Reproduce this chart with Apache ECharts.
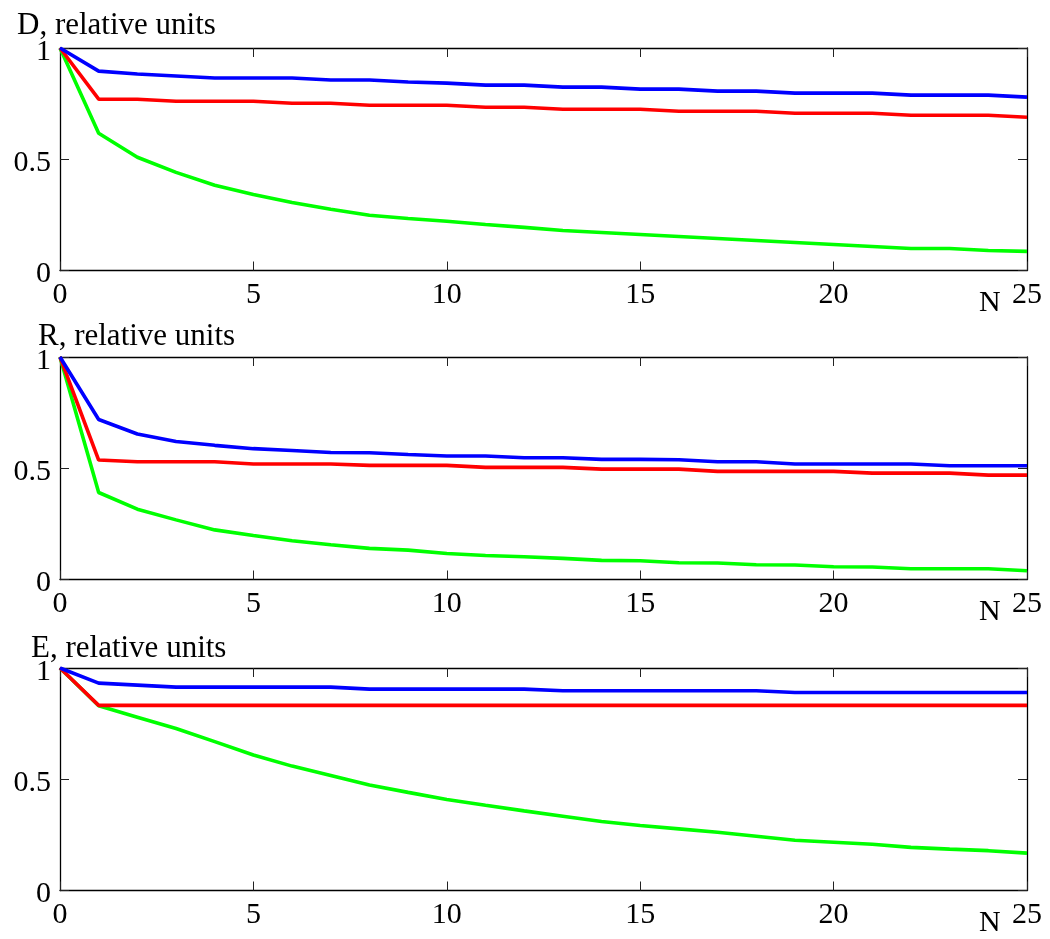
<!DOCTYPE html>
<html><head><meta charset="utf-8">
<script src="https://cdn.jsdelivr.net/npm/echarts@6/dist/echarts.min.js"></script>
<style>html,body{margin:0;padding:0;background:#fff}#c{width:1050px;height:939px}</style>
</head><body><div id="c"></div>
<script>
const N = [0,1,2,3,4,5,6,7,8,9,10,11,12,13,14,15,16,17,18,19,20,21,22,23,24,25];
const xTicks = [0,5,10,15,20,25];
const yTicks = [0,0.5,1];
const titles = ['D, relative units','R, relative units','E, relative units'];

const D_blue  = [1,0.896,0.883,0.874,0.865,0.865,0.865,0.856,0.856,0.847,0.842,0.833,0.833,0.824,0.824,0.815,0.815,0.806,0.806,0.797,0.797,0.797,0.788,0.788,0.788,0.779];
const D_red   = [1,0.77,0.77,0.761,0.761,0.761,0.752,0.752,0.743,0.743,0.743,0.734,0.734,0.725,0.725,0.725,0.716,0.716,0.716,0.707,0.707,0.707,0.698,0.698,0.698,0.689];
const D_green = [1,0.617,0.509,0.441,0.383,0.342,0.306,0.275,0.248,0.234,0.221,0.207,0.194,0.18,0.171,0.162,0.153,0.144,0.135,0.126,0.117,0.108,0.099,0.099,0.09,0.086];

const R_blue  = [1,0.719,0.654,0.62,0.603,0.588,0.58,0.571,0.57,0.562,0.555,0.555,0.547,0.547,0.54,0.54,0.538,0.529,0.529,0.519,0.519,0.519,0.519,0.511,0.511,0.511];
const R_red   = [1,0.537,0.529,0.529,0.529,0.519,0.519,0.519,0.513,0.513,0.513,0.504,0.504,0.504,0.496,0.496,0.496,0.486,0.486,0.486,0.486,0.478,0.478,0.478,0.469,0.469];
const R_green = [1,0.391,0.316,0.268,0.223,0.198,0.174,0.156,0.14,0.132,0.117,0.108,0.102,0.095,0.086,0.084,0.075,0.074,0.066,0.065,0.057,0.056,0.048,0.048,0.048,0.039];

const E_blue  = [1,0.932,0.923,0.914,0.914,0.914,0.914,0.914,0.905,0.905,0.905,0.905,0.905,0.898,0.898,0.898,0.898,0.898,0.898,0.89,0.89,0.89,0.89,0.89,0.89,0.89];
const E_red   = [1,0.832,0.832,0.832,0.832,0.832,0.832,0.832,0.832,0.832,0.832,0.832,0.832,0.832,0.832,0.832,0.832,0.832,0.832,0.832,0.832,0.832,0.832,0.832,0.832,0.832];
const E_green = [1,0.83,0.779,0.728,0.669,0.609,0.559,0.517,0.474,0.441,0.409,0.383,0.358,0.334,0.31,0.292,0.277,0.262,0.244,0.226,0.217,0.208,0.194,0.186,0.179,0.168];

const panels = [[D_blue,D_red,D_green],[R_blue,R_red,R_green],[E_blue,E_red,E_green]];
const colors = ['#0000ff','#ff0000','#00ff00'];

const FONT = "'Liberation Serif','Times New Roman',serif";
const gridTops = [48, 357, 668];
const gridH = 222.5;
const titleLeft = [17, 38, 31];
const titleBase = [32, 343, 655];

const grid = [], xAxis = [], yAxis = [], series = [], title = [];
gridTops.forEach((t, i) => {
  grid.push({left: 60, right: 23, top: t, height: gridH, show: false});
  const common = {min: 0, max: 25, interval: 5, gridIndex: i, type: 'value'};
  xAxis.push(Object.assign({}, common, {position: 'bottom',
    axisLine: {onZero: false, lineStyle: {color: '#000', width: 1.3}},
    axisTick: {inside: true, length: 9, lineStyle: {color: '#222'}},
    axisLabel: {margin: 10, color: '#000', fontFamily: FONT, fontSize: 30},
    splitLine: {show: false}}));
  xAxis.push(Object.assign({}, common, {position: 'top',
    axisLine: {onZero: false, lineStyle: {color: '#000', width: 1.3}},
    axisTick: {inside: true, length: 9, lineStyle: {color: '#222'}},
    axisLabel: {show: false}, splitLine: {show: false}}));
  const yc = {min: 0, max: 1, interval: 0.5, gridIndex: i, type: 'value'};
  yAxis.push(Object.assign({}, yc, {position: 'left',
    axisLine: {show: true, onZero: false, lineStyle: {color: '#000', width: 1.3}},
    axisTick: {show: true, inside: true, length: 9, lineStyle: {color: '#222'}},
    axisLabel: {margin: 9, color: '#000', fontFamily: FONT, fontSize: 30,
      verticalAlign: 'top', lineHeight: 8, formatter: v => String(v)},
    splitLine: {show: false}}));
  yAxis.push(Object.assign({}, yc, {position: 'right',
    axisLine: {show: true, onZero: false, lineStyle: {color: '#000', width: 1.3}},
    axisTick: {show: true, inside: true, length: 9, lineStyle: {color: '#222'}},
    axisLabel: {show: false}, splitLine: {show: false}}));
  panels[i].forEach((arr, k) => {
    series.push({type: 'line', xAxisIndex: 2*i, yAxisIndex: 2*i,
      data: N.map((n, j) => [n, arr[j]]), symbol: 'none', silent: true,
      lineStyle: {color: colors[k], width: 3.6}, z: 3 - k + 2});
  });
  title.push({text: titles[i], left: titleLeft[i], top: titleBase[i] - 22,
    textStyle: {fontFamily: FONT, fontSize: 31, fontWeight: 'normal', color: '#000'}, padding: 0});
  title.push({text: 'N', left: 979, top: gridTops[i] + gridH + 18,
    textStyle: {fontFamily: FONT, fontSize: 30, fontWeight: 'normal', color: '#000'}, padding: 0});
});

const chart = echarts.init(document.getElementById('c'), null, {renderer: 'canvas'});
chart.setOption({animation: false, backgroundColor: '#fff', title, grid, xAxis, yAxis, series});
</script></body></html>
